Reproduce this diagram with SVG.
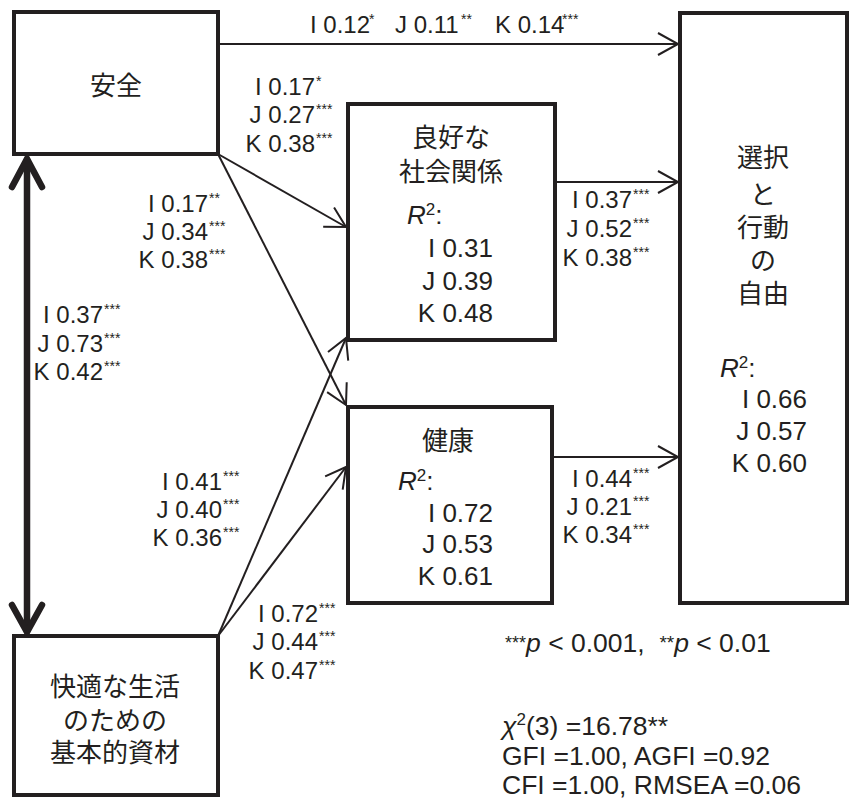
<svg xmlns="http://www.w3.org/2000/svg" width="855" height="803" viewBox="0 0 855 803">
<style>
.box{fill:#fff;stroke:#231f20;stroke-width:4}
.cjk{font-family:"Noto Sans CJK JP","Liberation Sans",sans-serif;font-size:26px;fill:#231f20;text-anchor:middle}
.lab{font-family:"Liberation Sans",Arial,sans-serif;font-size:24px;fill:#231f20}
.num{text-anchor:end}
.st{font-family:"Liberation Sans",Arial,sans-serif;font-size:14px;fill:#231f20}
.r2{font-family:"Liberation Sans",Arial,sans-serif;font-size:26px;fill:#231f20}
.note{font-family:"Liberation Sans",Arial,sans-serif;font-size:26.5px;fill:#231f20}
.conn line{stroke:#231f20;stroke-width:2;fill:none}
</style>
<defs>
<marker id="ah" markerUnits="userSpaceOnUse" markerWidth="30" markerHeight="30" viewBox="-25 -15 30 30" refX="0" refY="0" orient="auto" overflow="visible">
<path d="M-20,-11 L0,0 L-20,11" fill="none" stroke="#231f20" stroke-width="2"/>
</marker>
</defs>
<rect width="855" height="803" fill="#fff"/>

<g id="connectors" class="conn">
<line x1="218" y1="44" x2="678" y2="44" marker-end="url(#ah)"/>
<line x1="555" y1="182" x2="678" y2="182" marker-end="url(#ah)"/>
<line x1="552" y1="457" x2="678" y2="457" marker-end="url(#ah)"/>
<line x1="218" y1="154" x2="346" y2="227" marker-end="url(#ah)"/>
<line x1="218" y1="154" x2="346" y2="405" marker-end="url(#ah)"/>
<line x1="218" y1="636" x2="346" y2="338" marker-end="url(#ah)"/>
<line x1="218" y1="636" x2="346" y2="467" marker-end="url(#ah)"/>
<g id="correlation" stroke="#231f20" stroke-width="6.5" fill="none" stroke-linecap="round" stroke-linejoin="miter">
<line x1="27" y1="160" x2="27" y2="631" style="stroke-width:6.5"/>
<polyline points="12,187 27,159 42,187"/>
<polyline points="12,605 27,632 42,605"/>
</g>
</g>

<g id="node-anzen">
<rect class="box" x="14" y="12" width="204" height="142"/>
<text class="cjk" x="116" y="95">安全</text>
</g>
<g id="node-ryoko">
<rect class="box" x="348" y="104" width="207" height="236"/>
<text class="cjk" x="451" y="147">良好な</text>
<text class="cjk" x="451" y="181">社会関係</text>
<text class="r2" x="407" y="224"><tspan font-style="italic">R</tspan><tspan font-size="17" dy="-9">2</tspan><tspan dy="9">:</tspan></text>
<text class="r2 num" x="493" y="257">I 0.31</text>
<text class="r2 num" x="493" y="290">J 0.39</text>
<text class="r2 num" x="493" y="322">K 0.48</text>
</g>
<g id="node-kenko">
<rect class="box" x="348" y="407" width="204" height="196"/>
<text class="cjk" x="448" y="450">健康</text>
<text class="r2" x="398" y="490"><tspan font-style="italic">R</tspan><tspan font-size="17" dy="-9">2</tspan><tspan dy="9">:</tspan></text>
<text class="r2 num" x="493" y="522">I 0.72</text>
<text class="r2 num" x="493" y="553">J 0.53</text>
<text class="r2 num" x="493" y="585">K 0.61</text>
</g>
<g id="node-sentaku">
<rect class="box" x="680" y="13" width="167" height="590"/>
<text class="cjk" x="763" y="167">選択</text>
<text class="cjk" x="763" y="204">と</text>
<text class="cjk" x="763" y="237">行動</text>
<text class="cjk" x="763" y="270">の</text>
<text class="cjk" x="763" y="303">自由</text>
<text class="r2" x="720" y="377"><tspan font-style="italic">R</tspan><tspan font-size="17" dy="-9">2</tspan><tspan dy="9">:</tspan></text>
<text class="r2 num" x="807" y="408">I 0.66</text>
<text class="r2 num" x="807" y="440">J 0.57</text>
<text class="r2 num" x="807" y="472">K 0.60</text>
</g>
<g id="node-kaiteki">
<rect class="box" x="14" y="636" width="204" height="159"/>
<text class="cjk" x="115" y="696">快適な生活</text>
<text class="cjk" x="115" y="730">のための</text>
<text class="cjk" x="115" y="762">基本的資材</text>
</g>

<g id="edge-labels">
<text class="lab" x="310" y="33">I 0.12</text><text class="st" x="369" y="24">*</text>
<text class="lab" x="395" y="33">J 0.11</text><text class="st" x="461" y="24">**</text>
<text class="lab" x="495" y="33">K 0.14</text><text class="st" x="562" y="24">***</text>

<text class="lab num" x="315" y="95">I 0.17</text><text class="st" x="316" y="86">*</text>
<text class="lab num" x="315" y="123">J 0.27</text><text class="st" x="316" y="114">***</text>
<text class="lab num" x="315" y="152">K 0.38</text><text class="st" x="316" y="143">***</text>

<text class="lab num" x="208" y="212">I 0.17</text><text class="st" x="209" y="203">**</text>
<text class="lab num" x="208" y="240">J 0.34</text><text class="st" x="209" y="231">***</text>
<text class="lab num" x="208" y="268">K 0.38</text><text class="st" x="209" y="259">***</text>

<text class="lab num" x="103" y="323">I 0.37</text><text class="st" x="104" y="314">***</text>
<text class="lab num" x="103" y="352">J 0.73</text><text class="st" x="104" y="343">***</text>
<text class="lab num" x="103" y="380">K 0.42</text><text class="st" x="104" y="371">***</text>

<text class="lab num" x="222" y="490">I 0.41</text><text class="st" x="223" y="481">***</text>
<text class="lab num" x="222" y="518">J 0.40</text><text class="st" x="223" y="509">***</text>
<text class="lab num" x="222" y="546">K 0.36</text><text class="st" x="223" y="537">***</text>

<text class="lab num" x="318" y="622">I 0.72</text><text class="st" x="319" y="613">***</text>
<text class="lab num" x="318" y="650">J 0.44</text><text class="st" x="319" y="641">***</text>
<text class="lab num" x="318" y="679">K 0.47</text><text class="st" x="319" y="670">***</text>

<text class="lab num" x="632" y="208">I 0.37</text><text class="st" x="633" y="199">***</text>
<text class="lab num" x="632" y="237">J 0.52</text><text class="st" x="633" y="228">***</text>
<text class="lab num" x="632" y="266">K 0.38</text><text class="st" x="633" y="257">***</text>

<text class="lab num" x="632" y="487">I 0.44</text><text class="st" x="633" y="478">***</text>
<text class="lab num" x="632" y="515">J 0.21</text><text class="st" x="633" y="506">***</text>
<text class="lab num" x="632" y="543">K 0.34</text><text class="st" x="633" y="534">***</text>
</g>

<g id="notes">
<text class="note" x="505" y="652" xml:space="preserve"><tspan font-size="18" dy="-3">***</tspan><tspan dy="3" font-style="italic">p</tspan> &lt; 0.001,  <tspan font-size="19" dy="-3">**</tspan><tspan dy="3" font-style="italic">p</tspan> &lt; 0.01</text>
<text class="note" x="502" y="735"><tspan font-style="italic">χ</tspan><tspan font-size="17" dy="-10">2</tspan><tspan dy="10">(3) =16.78**</tspan></text>
<text class="note" x="502" y="765">GFI =1.00, AGFI =0.92</text>
<text class="note" x="502" y="794">CFI =1.00, RMSEA =0.06</text>
</g>
</svg>
